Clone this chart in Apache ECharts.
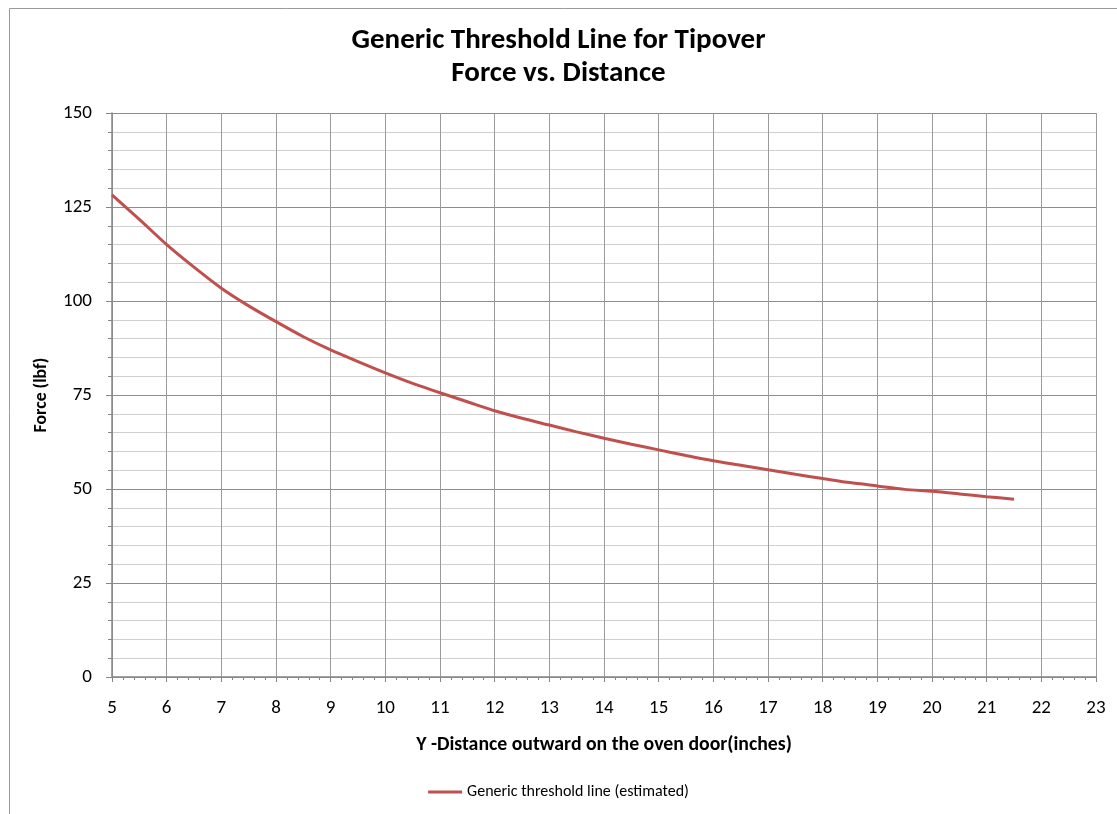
<!DOCTYPE html>
<html><head><meta charset="utf-8">
<script src="https://cdn.jsdelivr.net/npm/echarts@6/dist/echarts.min.js"></script>
<style>html,body{margin:0;padding:0;background:#fff}#c{width:1117px;height:814px}</style>
</head><body><div id="c"></div>
<script>
const distances = [5, 5.5, 6, 6.5, 7, 7.5, 8, 8.5, 9, 9.5, 10, 10.5, 11, 11.5, 12, 12.5, 13, 13.5, 14, 14.5, 15, 15.5, 16, 16.5, 17, 17.5, 18, 18.5, 19, 19.5, 20, 20.5, 21, 21.5];
const forces = [128.2, 121.7, 115.0, 109.0, 103.4, 98.7, 94.5, 90.5, 87.0, 83.9, 80.9, 78.1, 75.6, 73.2, 70.8, 68.8, 67.0, 65.2, 63.5, 61.9, 60.4, 58.9, 57.5, 56.3, 55.1, 53.9, 52.8, 51.7, 50.8, 49.9, 49.4, 48.7, 47.95, 47.3];
const seriesName = 'Generic threshold line (estimated)';
const titleText = 'Generic Threshold Line for Tipover\nForce vs. Distance';
const xName = 'Y -Distance outward on the oven door(inches)';
const yName = 'Force (lbf)';

const font = 'Calibri, Carlito, Lato, "Open Sans", sans-serif';
const chart = echarts.init(document.getElementById('c'), null, {renderer: 'canvas'});
chart.setOption({
  animation: false,
  backgroundColor: '#fff',
  textStyle: {fontFamily: font},
  graphic: [{
    type: 'rect', left: 7, top: 6, silent: true,
    shape: {x: 0, y: 0, width: 1130, height: 830},
    style: {fill: 'none', stroke: '#9a9a9a', lineWidth: 1}
  }],
  title: {
    text: titleText, left: 'center', top: 19,
    textStyle: {fontFamily: font, fontSize: 29, fontWeight: 'bold', color: '#000', lineHeight: 33}
  },
  legend: {
    bottom: 9, left: 'center',
    icon: 'rect', itemWidth: 34, itemHeight: 3, itemGap: 3,
    textStyle: {fontFamily: font, fontSize: 16, color: '#000'},
    data: [seriesName]
  },
  grid: {left: 112, right: 21, top: 113, bottom: 137, containLabel: false},
  xAxis: {
    type: 'value', min: 5, max: 23, interval: 1,
    name: xName, nameLocation: 'middle', nameGap: 58,
    nameTextStyle: {fontFamily: font, fontSize: 19.8, fontWeight: 'bold', color: '#000'},
    axisLine: {show: true, onZero: false, lineStyle: {color: '#868686', width: 1.5}},
    axisTick: {show: true, length: 5, inside: false, lineStyle: {color: '#868686'}},
    minorTick: {show: true, splitNumber: 5, length: 3, lineStyle: {color: '#868686'}},
    axisLabel: {fontFamily: font, fontSize: 19, color: '#000', margin: 22},
    splitLine: {show: true, lineStyle: {color: '#9a9a9a', width: 1}},
    minorSplitLine: {show: false}
  },
  yAxis: {
    type: 'value', min: 0, max: 150, interval: 25,
    name: yName, nameLocation: 'middle', nameGap: 61, nameRotate: 90,
    nameTextStyle: {fontFamily: font, fontSize: 17.8, fontWeight: 'bold', color: '#000'},
    axisLine: {show: true, lineStyle: {color: '#868686', width: 1.5}},
    axisTick: {show: true, length: 6, lineStyle: {color: '#868686'}},
    minorTick: {show: true, splitNumber: 5, length: 4, lineStyle: {color: '#868686'}},
    axisLabel: {fontFamily: font, fontSize: 19, color: '#000', margin: 20},
    splitLine: {show: true, lineStyle: {color: '#8c8c8c', width: 1}},
    minorSplitLine: {show: true, lineStyle: {color: '#cfcfcf', width: 1}}
  },
  series: [{
    name: seriesName, type: 'line',
    data: distances.map((d, i) => [d, forces[i]]),
    showSymbol: false, symbol: 'none', smooth: 0.25,
    lineStyle: {color: '#c0504d', width: 3},
    itemStyle: {color: '#c0504d'}
  }]
});
</script></body></html>
